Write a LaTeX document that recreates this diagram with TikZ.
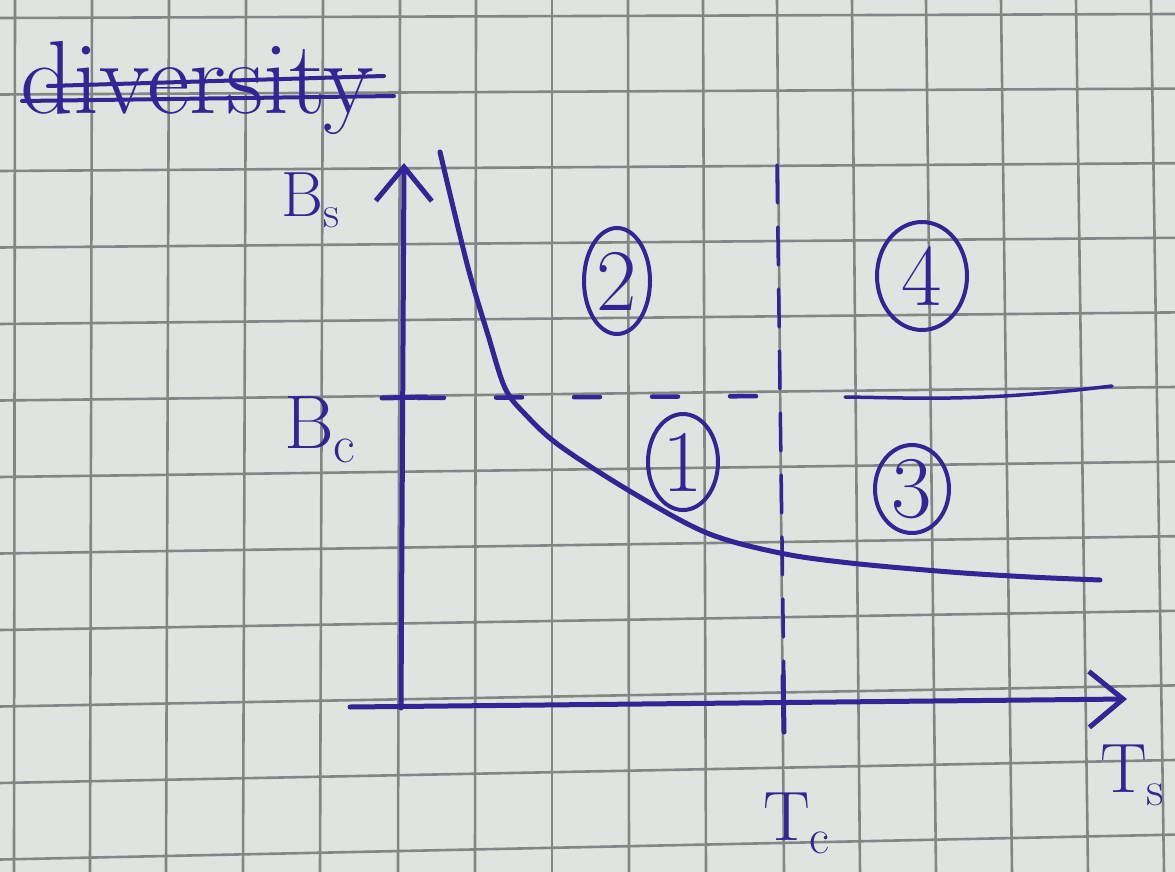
\documentclass[tikz,border=0pt]{standalone}
\usetikzlibrary{arrows.meta,shapes.geometric}
\definecolor{paper}{RGB}{224,227,222}
\definecolor{gridc}{RGB}{132,134,134}
\definecolor{ink}{RGB}{52,36,150}
\begin{document}
\begin{tikzpicture}[x=1pt,y=-1pt,
  gridline/.style={draw=gridc,line width=2.6pt},
  inkline/.style={draw=ink,line width=5pt,line cap=round,line join=round},
  axisline/.style={inkline,-{Straight Barb[length=34pt,width=56pt,line width=5pt]}},
  dashline/.style={draw=ink,line width=4.5pt,line cap=round},
  circnum/.style={draw=ink,line width=4pt,ellipse,inner sep=0pt,text=ink,font=\fontsize{88}{88}\selectfont},
  axlabel/.style={text=ink,inner sep=0pt,anchor=base west,font=\fontsize{70}{70}\selectfont},
]
\fill[paper] (0,0) rectangle (1175,872);
\useasboundingbox (0,0) rectangle (1175,872);
% graph paper
\foreach \a/\b in {15/14, 92/90, 169/166, 246/243, 323/320, 400/398, 476/475, 552/552,
                   628/629, 703/706, 777/784, 852/860, 926/936, 1001/1012, 1076/1088, 1151/1164}
  \draw[gridline] (\a,0) -- (\b,872);
\foreach \k in {0,...,11}
  \draw[gridline] (0,{18+76.5*\k}) -- (1175,{14+74.6*\k});

% crossed-out word
\node[text=ink,inner sep=0pt,anchor=base west,font=\fontsize{104}{104}\selectfont] (word) at (20,114) {diversity};
\coordinate (s1a) at (22,101); \coordinate (s1b) at (394,96);
\coordinate (s2a) at (48,86);  \coordinate (s2b) at (384,76);
\draw[inkline,line width=4pt] (s1a) -- (s1b);
\draw[inkline,line width=4pt] (s2a) -- (s2b);

% axes
\coordinate (O) at (401,708);
\coordinate (ytop) at (404,163);
\coordinate (xstart) at (350,707);
\coordinate (xend) at (1127,699);
\draw[axisline] (O) -- (ytop);
\draw[axisline] (xstart) -- (xend);

% Bc tick and dashed line
\coordinate (bcl) at (382,398); \coordinate (bcr) at (426,397);
\draw[inkline] (bcl) -- (bcr);
\coordinate (hd1) at (418,398); \coordinate (hd2) at (782,396);
\draw[dashline,dash pattern=on 26pt off 52pt] (hd1) -- (hd2);
\coordinate (hd3) at (845,397); \coordinate (hd4) at (1112,386);
\draw[dashline,line width=3.5pt] (hd3) .. controls (920,398) and (980,402) .. (hd4);

% Tc dashed line and tick
\coordinate (vd1) at (777,165); \coordinate (vd2) at (784,690);
\draw[dashline,line width=3.5pt,dash pattern=on 38pt off 24pt] (vd1) -- (vd2);
\coordinate (tct) at (783,676); \coordinate (tcb) at (784,732);
\draw[inkline] (tct) -- (tcb);

% curve
\draw[inkline] plot[smooth,tension=0.55] coordinates {
  (440,152) (455,215) (470,275) (488,335) (505,388) (525,414) (560,446)
  (633,493) (707,533) (780,553) (850,563) (950,572) (1030,577) (1100,580)};

% axis labels
\node[axlabel,font=\fontsize{64}{64}\selectfont] (Bs) at (281,216) {B\textsubscript{s}};
\node[axlabel,font=\fontsize{76}{76}\selectfont] (Bc) at (284,448) {B\textsubscript{c}};
\node[axlabel] (Tc) at (763,840) {T\textsubscript{c}};
\node[axlabel] (Ts) at (1100,792) {T\textsubscript{s}};

% region numbers
\node[circnum,minimum width=66pt,minimum height=106pt] (r2) at (617,281) {2};
\node[circnum,minimum width=90pt,minimum height=108pt] (r4) at (922,276) {4};
\node[circnum,minimum width=70pt,minimum height=96pt] (r1) at (683,462) {1};
\node[circnum,minimum width=74pt,minimum height=88pt] (r3) at (912,489) {3};
\end{tikzpicture}
\end{document}
